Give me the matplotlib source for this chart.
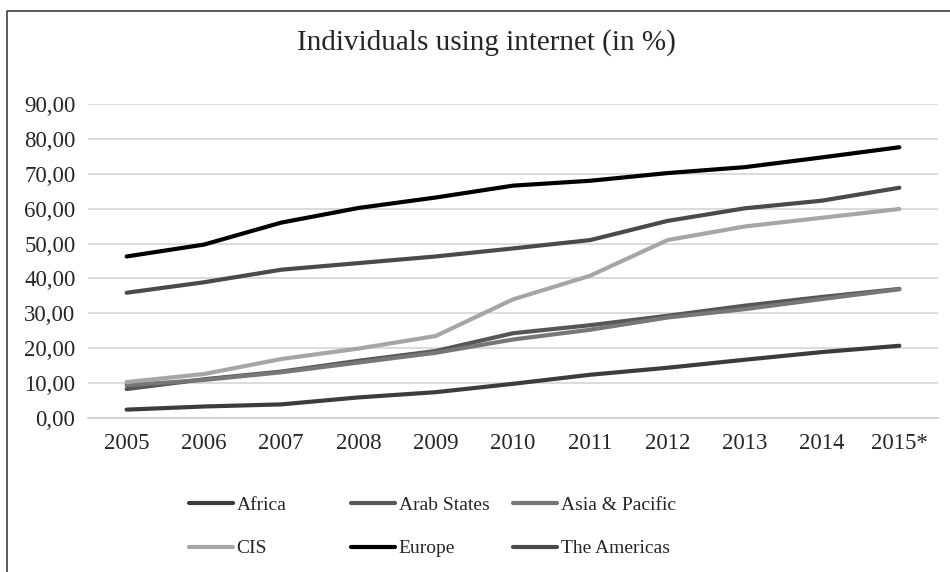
import numpy as np
import matplotlib
matplotlib.use('Agg')
import matplotlib.pyplot as plt
from matplotlib.lines import Line2D
from matplotlib.ticker import MultipleLocator, FuncFormatter

plt.rcParams['font.family'] = ['Liberation Serif', 'DejaVu Serif']

# data (ITU, individuals using internet, %)
years = ['2005', '2006', '2007', '2008', '2009', '2010', '2011', '2012', '2013', '2014', '2015*']
africa = [2.4, 3.3, 3.9, 5.9, 7.4, 9.8, 12.4, 14.4, 16.7, 18.9, 20.7]
arab_states = [8.3, 11.1, 13.3, 16.4, 19.2, 24.3, 26.6, 29.3, 32.2, 34.7, 37.0]
asia_pacific = [9.4, 10.9, 13.1, 15.9, 18.7, 22.5, 25.3, 28.8, 31.2, 34.1, 36.9]
cis = [10.3, 12.6, 16.9, 19.9, 23.5, 34.0, 40.8, 51.0, 54.9, 57.4, 59.9]
europe = [46.3, 49.7, 56.0, 60.2, 63.2, 66.6, 68.0, 70.2, 71.9, 74.7, 77.6]
americas = [35.9, 38.9, 42.5, 44.4, 46.3, 48.6, 51.0, 56.5, 60.1, 62.3, 66.0]

series = [('Africa', africa, '#3c3c3c'),
          ('Arab States', arab_states, '#565656'),
          ('Asia & Pacific', asia_pacific, '#777777'),
          ('CIS', cis, '#a6a6a6'),
          ('Europe', europe, '#000000'),
          ('The Americas', americas, '#4a4a4a')]

txt = '#262626'
W, H = 950, 572
fig = plt.figure(figsize=(W / 100, H / 100), dpi=100)
ax = fig.add_axes([88 / W, 1 - 418 / H, (938 - 88) / W, (418 - 104) / H])

x = np.arange(len(years))
handles = {}
for name, vals, col in series:
    ln, = ax.plot(x, vals, color=col, lw=3.0, solid_capstyle='round',
                  solid_joinstyle='round', label=name, zorder=3)
    handles[name] = ln

ax.set_xlim(-0.5, len(years) - 0.5)
ax.set_ylim(0, 90)
ax.yaxis.set_major_locator(MultipleLocator(10))
ax.yaxis.set_major_formatter(FuncFormatter(lambda v, p: f'{v:.2f}'.replace('.', ',')))
ax.set_xticks(x)
ax.set_xticklabels(years)
ax.grid(axis='y', color='#d9d9d9', lw=1.3, zorder=0)
for s in ['top', 'right', 'left']:
    ax.spines[s].set_visible(False)
ax.spines['bottom'].set_color('#d0d0d0')
ax.spines['bottom'].set_linewidth(1.3)
ax.tick_params(axis='both', length=0, labelsize=16.5, colors=txt)
ax.tick_params(axis='y', pad=9)
ax.tick_params(axis='x', pad=11)

fig.text(486 / W, 1 - 43 / H, 'Individuals using internet (in %)',
         ha='center', va='center', fontsize=21, color=txt)

# legend: three columns, placed like the Excel legend
cols = [['Africa', 'CIS'], ['Arab States', 'Europe'], ['Asia & Pacific', 'The Americas']]
col_x = [189, 351, 513]
for names, cx in zip(cols, col_x):
    leg = fig.legend([handles[n] for n in names], names, loc='upper left',
                     bbox_to_anchor=(cx / W, 1 - 496 / H), frameon=False,
                     fontsize=14, handlelength=2.25, handletextpad=0.2,
                     labelspacing=1.35, borderpad=0, borderaxespad=0)
    for t in leg.get_texts():
        t.set_color(txt)

# chart frame (left and top edges visible)
fig.add_artist(Line2D([7 / W, 7 / W, 1.0], [0.0, 1 - 11 / H, 1 - 11 / H],
                      transform=fig.transFigure, color='#404040', lw=1.2))

fig.savefig('out.png', dpi=100)
